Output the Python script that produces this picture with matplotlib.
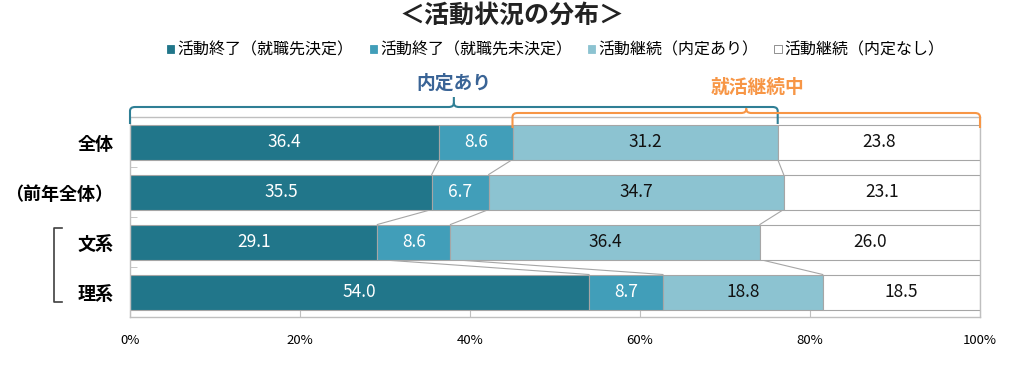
import matplotlib
matplotlib.use("Agg")
import matplotlib.pyplot as plt
import numpy as np
from matplotlib.patches import Patch
from matplotlib.lines import Line2D
from matplotlib.path import Path
from matplotlib.patches import PathPatch
import matplotlib.transforms as mtransforms

plt.rcParams["font.family"] = ["Noto Sans CJK JP", "DejaVu Sans"]

categories = ["全体", "（前年全体）", "文系", "理系"]
series_names = ["活動終了（就職先決定）", "活動終了（就職先未決定）", "活動継続（内定あり）", "活動継続（内定なし）"]
done_decided = [36.4, 35.5, 29.1, 54.0]
done_undecided = [8.6, 6.7, 8.6, 8.7]
cont_offer = [31.2, 34.7, 36.4, 18.8]
cont_no_offer = [23.8, 23.1, 26.0, 18.5]
xticks = [0, 20, 40, 60, 80, 100]

colors = ["#21768A", "#419EB9", "#8CC3D1", "#FFFFFF"]
text_colors = ["white", "white", "#111111", "#111111"]
edge = "#A6A6A6"
frame = "#BFBFBF"

fig = plt.figure(figsize=(10.24, 3.66), dpi=100)
ax = fig.add_axes([130 / 1024, 1 - 317 / 366, 850 / 1024, 200 / 366])

data = np.array([done_decided, done_undecided, cont_offer, cont_no_offer])
y = np.arange(len(categories))
h = 0.7
left = np.zeros(len(categories))
for i, vals in enumerate(data):
    ax.barh(y, vals, left=left, height=h, color=colors[i], edgecolor=edge, linewidth=0.8, zorder=2)
    for yy, l, v in zip(y, left, vals):
        ax.text(l + v / 2, yy, f"{v:.1f}", ha="center", va="center", fontsize=12.5,
                color=text_colors[i], zorder=3)
    left = left + vals

# series connector lines between bars
cum = np.cumsum(data, axis=0)
for k in range(3):
    for r in range(len(categories) - 1):
        ax.plot([cum[k, r], cum[k, r + 1]], [y[r] + h / 2, y[r + 1] - h / 2],
                color="#A6A6A6", lw=0.8, zorder=1)

ax.set_xlim(0, 100)
ax.set_ylim(3.5, -0.5)
ax.set_xticks(xticks)
ax.set_xticklabels([f"{t}%" for t in xticks], fontsize=9.5)
ax.set_yticks(y)
ax.set_yticklabels(categories, fontsize=13, fontweight="bold")
ax.tick_params(axis="y", length=0, pad=12)
ax.set_yticks([-0.5, 0.5, 1.5, 2.5, 3.5], minor=True)
ax.tick_params(axis="y", which="minor", direction="in", length=5, color=frame)
ax.tick_params(axis="x", direction="in", length=5, color=frame, pad=12)
for s in ax.spines.values():
    s.set_color(frame)
    s.set_linewidth(1.0)


def brace(x0, x1, yl, ye, yt, color):
    xm = (x0 + x1) / 2
    r = 0.6
    ry = 0.08
    verts = [(x0, ye), (x0, yl + ry), (x0, yl), (x0 + r, yl),
             (xm - r, yl), (xm, yl), (xm, yl - ry), (xm, yt)]
    codes = [Path.MOVETO, Path.LINETO, Path.CURVE3, Path.CURVE3,
             Path.LINETO, Path.CURVE3, Path.CURVE3, Path.LINETO]
    verts += [(xm, yl - ry), (xm, yl), (xm + r, yl), (x1 - r, yl), (x1, yl), (x1, yl + ry), (x1, ye)]
    codes += [Path.MOVETO, Path.CURVE3, Path.CURVE3, Path.LINETO, Path.CURVE3, Path.CURVE3, Path.LINETO]
    ax.add_patch(PathPatch(Path(verts, codes), fill=False, edgecolor=color, lw=1.5,
                           clip_on=False, zorder=4))


offer_end = done_decided[0] + done_undecided[0] + cont_offer[0]
active_start = done_decided[0] + done_undecided[0]
brace(0, offer_end, -0.70, -0.36, -0.90, "#2F7F95")
brace(active_start, 100, -0.58, -0.28, -0.68, "#F79646")
ax.text(offer_end / 2, -1.18, "内定あり", ha="center", va="center", fontsize=13.5,
        fontweight="bold", color="#3A6496", clip_on=False)
ax.text(73.8, -1.10, "就活継続中", ha="center", va="center", fontsize=13.5,
        fontweight="bold", color="#F79646", clip_on=False)

# bracket for 文系 / 理系
tr = mtransforms.blended_transform_factory(ax.transAxes, ax.transData)
bx0, bx1 = (54 - 130) / 850, (62 - 130) / 850
ax.add_line(Line2D([bx1, bx0, bx0, bx1], [1.72, 1.72, 3.2, 3.2], transform=tr,
                   color="#404040", lw=1.2, clip_on=False))

handles = [Patch(facecolor=c, edgecolor=("#7F7F7F" if c == "#FFFFFF" else c), lw=0.6)
           for c in colors]
fig.legend(handles, series_names, loc="center", bbox_to_anchor=(0.543, 1 - 50 / 366), ncol=4,
           frameon=False, fontsize=11.5, handlelength=0.45, handleheight=0.45,
           handletextpad=0.2, columnspacing=1.0)

fig.text(0.5, 1 - 16 / 366, "＜活動状況の分布＞", ha="center", va="center",
         fontsize=18, fontweight="bold", color="#222222")

fig.savefig("out.png", dpi=100)
